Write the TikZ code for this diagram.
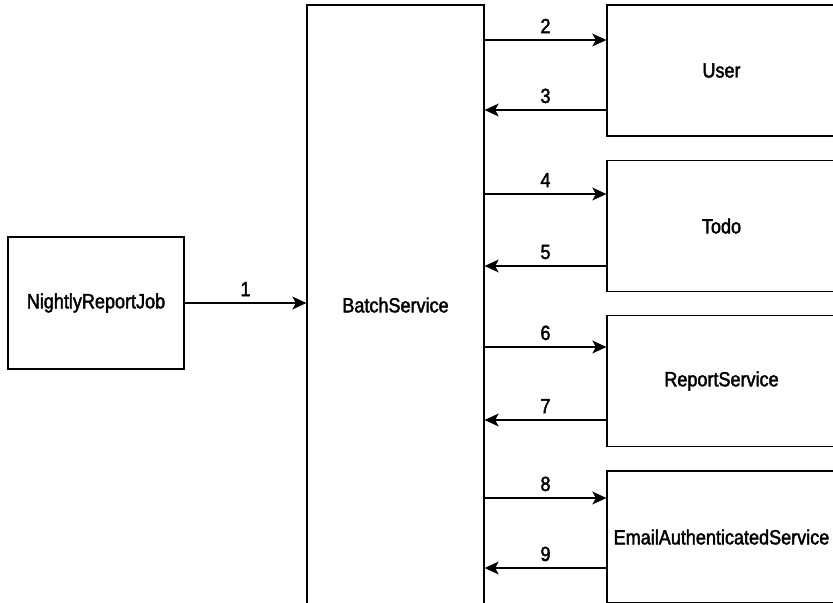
\documentclass[tikz,border=0pt]{standalone}
\usepackage{fontspec}
\setmainfont{Liberation Sans}[FakeStretch = 0.88, FakeBold = 2]
\usetikzlibrary{arrows.meta}

\tikzset{
    box/.style = {draw, line width = 1pt, minimum width = #1, minimum height = 3.93cm, inner sep = 0pt},
    flow/.style = {line width = 1pt, -{Stealth[length = 12pt, width = 11pt, inset = 3pt]}},
    num/.style = {above = 2pt}
}

\begin{document}
\begin{tikzpicture}[x = 0.03cm, y = -0.03cm, font = \fontsize{17.5}{20}\selectfont]
        \useasboundingbox (0,0) rectangle (833,602);
        \clip (0,0) rectangle (833,602);

        % caller and the service in the middle
        \node [box = 5.28cm, minimum height = 3.96cm] (job) at (96,303) {NightlyReportJob};
        \node [box = 5.31cm, minimum height = 18cm] (batch) at (395.5,305) {BatchService};

        % services on the right, partly cut off
        \node [box = 6.87cm] (user) at (721.5,70.5) {User};
        \node [box = 6.87cm] (todo) at (721.5,226) {Todo};
        \node [box = 6.87cm] (report) at (721.5,381) {ReportService};
        \node [box = 6.87cm, minimum height = 3.96cm] (email) at (721.5,537) {EmailAuthenticatedService};

        \draw [flow] (job) -- node [num] {1} (batch.west |- job.east);

        % calls out and the answers back
        \foreach \n/\to/\y in {2/user/40, 4/todo/194, 6/report/347, 8/email/498}
            \draw [flow] (batch.east |- 0,\y) -- node [num] {\n} (\to.west |- 0,\y);
        \foreach \n/\from/\y in {3/user/110, 5/todo/266, 7/report/420, 9/email/568}
            \draw [flow] (\from.west |- 0,\y) -- node [num] {\n} (batch.east |- 0,\y);
\end{tikzpicture}
\end{document}
